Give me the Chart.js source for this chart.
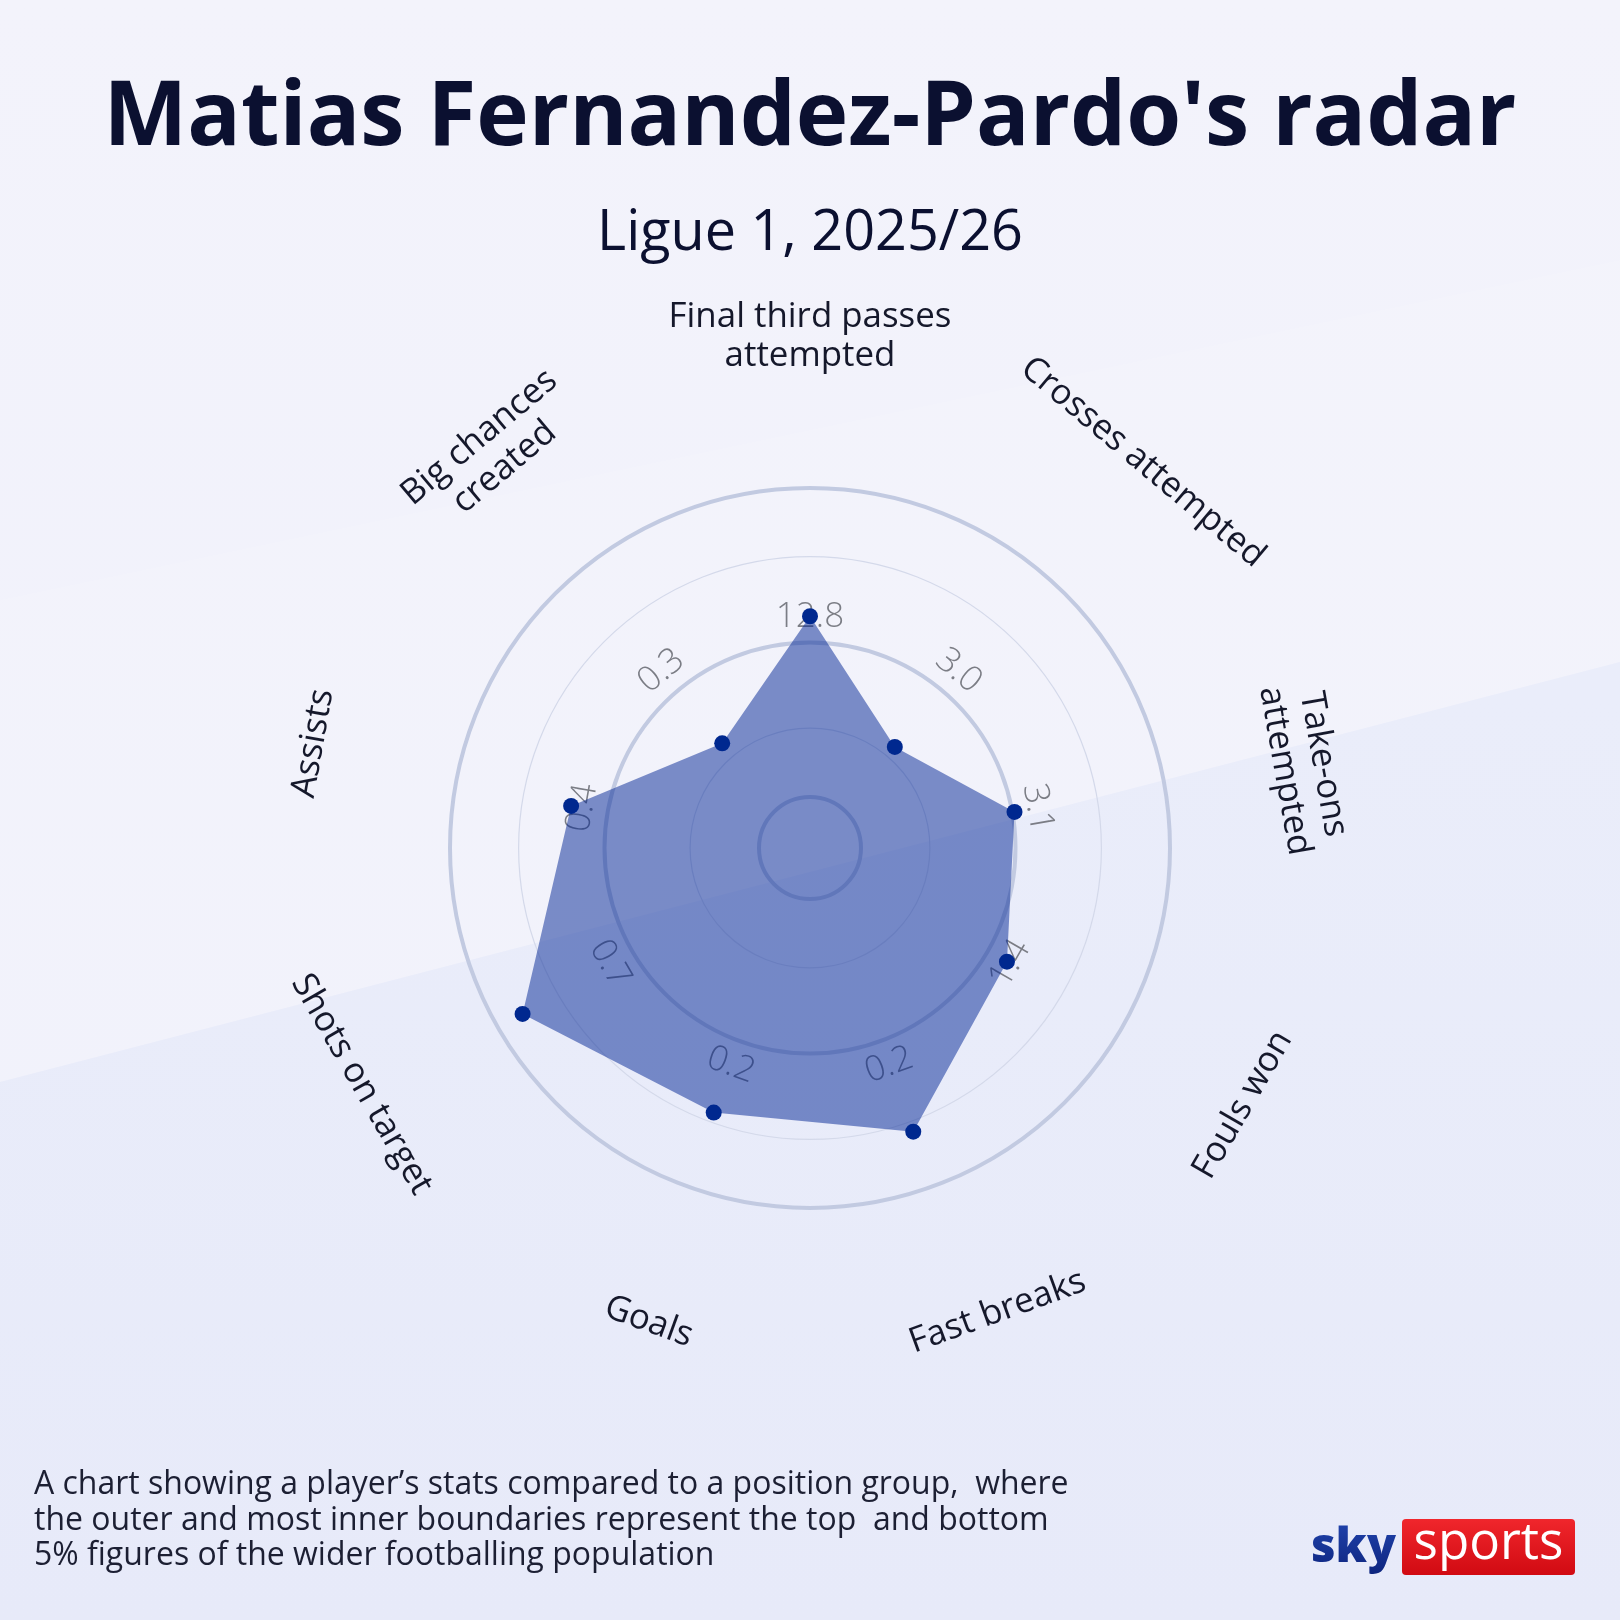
<!DOCTYPE html>
<html>
<head>
<meta charset="utf-8">
<script src="https://cdn.jsdelivr.net/npm/chart.js@4.4.1/dist/chart.umd.min.js"></script>
<style>
  html, body { margin: 0; padding: 0; background: #eef0fa; }
  #radar { display: block; width: 1620px; height: 1620px; }
</style>
</head>
<body>
<canvas id="radar" width="1620" height="1620"></canvas>
<script>
// Data
const categories = [
  ["Final third passes", "attempted"],
  ["Crosses attempted"],
  ["Take-ons", "attempted"],
  ["Fouls won"],
  ["Fast breaks"],
  ["Goals"],
  ["Shots on target"],
  ["Assists"],
  ["Big chances", "created"],
];
// position in the percentile band (0 = bottom 5%, 100 = top 5%)
const percentiles = [58.5, 26.2, 50.7, 57.1, 81.2, 74.6, 90.9, 62.0, 27.7];
// per-90 figures shown on each spoke
const rawValues = ["12.8", "3.0", "3.1", "1.4", "0.2", "0.2", "0.7", "0.4", "0.3"];
// ring values, the inner and outer thick rings are the 5% boundaries
const ringValues = [0, 22.3, 50, 77.8, 100];
const ringIsMajor = [true, false, true, false, true];
const scaleMin = -16.5;

// small nudges for the spoke labels: [extra angle in degrees, distance / drawingArea]
const labelNudge = [
  [0, 1.42], [0.8, 1.415], [0.75, 1.39], [0.7, 1.398], [-2, 1.39],
  [-1.2, 1.39], [2.2, 1.408], [1.9, 1.41], [1.2, 1.41],
];

const titleText = "Matias Fernandez-Pardo's radar";
const subtitleText = "Ligue 1, 2025/26";
const footnoteLines = [
  "A chart showing a player\u2019s stats compared to a position group,  where",
  "the outer and most inner boundaries represent the top  and bottom",
  "5% figures of the wider footballing population",
];

const FONT = "'Open Sans', 'Noto Sans', sans-serif";

// size a font so a string fills a given width
function fitSize(ctx, text, weight, targetW) {
  ctx.font = `${weight} 100px ${FONT}`;
  return (100 * targetW) / ctx.measureText(text).width;
}

function roundRect(ctx, x, y, w, h, r) {
  ctx.beginPath();
  ctx.moveTo(x + r, y);
  ctx.arcTo(x + w, y, x + w, y + h, r);
  ctx.arcTo(x + w, y + h, x, y + h, r);
  ctx.arcTo(x, y + h, x, y, r);
  ctx.arcTo(x, y, x + w, y, r);
  ctx.closePath();
}

// text turned along the ring, flipped on the lower half so it stays readable
function ringRotation(angle) {
  if (angle > Math.PI / 2 + 0.01 && angle < Math.PI * 1.5 - 0.01) return angle - Math.PI;
  return angle;
}

// background with the soft diagonal bands
const backgroundPlugin = {
  id: "background",
  beforeDraw(chart) {
    const c = chart.ctx;
    const W = chart.width, H = chart.height;
    c.save();
    const g = c.createLinearGradient(0, 0, 0, H);
    g.addColorStop(0, "#f3f3fb");
    g.addColorStop(1, "#eff0fb");
    c.fillStyle = g;
    c.fillRect(0, 0, W, H);

    c.fillStyle = "rgba(255,255,255,0.1)";
    c.beginPath();
    c.moveTo(0, 600);
    c.lineTo(W, 260);
    c.lineTo(W, 662);
    c.lineTo(0, 1082);
    c.closePath();
    c.fill();

    const g2 = c.createLinearGradient(0, 700, 0, H);
    g2.addColorStop(0, "#eaedfa");
    g2.addColorStop(1, "#e7eaf9");
    c.fillStyle = g2;
    c.beginPath();
    c.moveTo(0, 1082);
    c.lineTo(W, 662);
    c.lineTo(W, H);
    c.lineTo(0, H);
    c.closePath();
    c.fill();
    c.restore();
  },
};

// value labels on each spoke, drawn under the filled shape
const valueLabelPlugin = {
  id: "valueLabels",
  beforeDatasetsDraw(chart) {
    const scale = chart.scales.r;
    const c = chart.ctx;
    const dist = scale.drawingArea * 0.642;
    c.save();
    c.font = `300 35px ${FONT}`;
    c.fillStyle = "#7b7d85";
    c.textAlign = "center";
    c.textBaseline = "middle";
    rawValues.forEach((txt, i) => {
      const p = scale.getPointPosition(i, dist);
      c.save();
      c.translate(p.x, p.y);
      c.rotate(ringRotation(scale.getIndexAngle(i)));
      c.fillText(txt, 0, 0);
      c.restore();
    });
    c.restore();
  },
};

// category labels, titles, footnote and logo
const textPlugin = {
  id: "texts",
  afterDraw(chart) {
    const scale = chart.scales.r;
    const c = chart.ctx;
    c.save();

    // spoke labels
    const labelSize = fitSize(c, "Final third passes", 400, 283);
    const lineH = labelSize * 1.12;
    c.font = `400 ${labelSize}px ${FONT}`;
    c.fillStyle = "#15182b";
    c.textAlign = "center";
    c.textBaseline = "middle";
    categories.forEach((lines, i) => {
      const angle = scale.getIndexAngle(i) + (labelNudge[i][0] * Math.PI) / 180;
      const dist = scale.drawingArea * labelNudge[i][1];
      const x = scale.xCenter + Math.sin(angle) * dist;
      const y = scale.yCenter - Math.cos(angle) * dist;
      c.save();
      c.translate(x, y);
      c.rotate(ringRotation(scale.getIndexAngle(i)));
      lines.forEach((ln, k) => {
        c.fillText(ln, 0, (k - (lines.length - 1) / 2) * lineH);
      });
      c.restore();
    });

    // title and subtitle
    c.textBaseline = "alphabetic";
    c.fillStyle = "#0b1030";
    const tSize = fitSize(c, titleText, 700, 1413);
    c.font = `700 ${tSize}px ${FONT}`;
    c.fillText(titleText, 810, 145);
    const sSize = fitSize(c, subtitleText, 400, 426);
    c.font = `400 ${sSize}px ${FONT}`;
    c.fillText(subtitleText, 810, 250);

    // footnote
    c.textAlign = "left";
    c.fillStyle = "#1c1f33";
    const fSize = fitSize(c, footnoteLines[0], 400, 1035);
    c.font = `400 ${fSize}px ${FONT}`;
    footnoteLines.forEach((ln, k) => c.fillText(ln, 34, 1494 + k * 35.5));

    // sky sports logo
    const red = c.createLinearGradient(0, 1519, 0, 1575);
    red.addColorStop(0, "#f0262c");
    red.addColorStop(1, "#d10a12");
    c.fillStyle = red;
    roundRect(c, 1402, 1519, 173, 56, 4);
    c.fill();
    c.fillStyle = "#ffffff";
    c.textAlign = "center";
    c.font = `400 ${fitSize(c, "sports", 400, 150)}px ${FONT}`;
    c.fillText("sports", 1488.5, 1559);
    const navy = c.createLinearGradient(0, 1520, 0, 1585);
    navy.addColorStop(0, "#2043ad");
    navy.addColorStop(1, "#0a1f75");
    c.fillStyle = navy;
    c.font = `800 ${fitSize(c, "sky", 800, 85)}px ${FONT}`;
    c.fillText("sky", 1353.5, 1562);

    c.restore();
  },
};

const ctx = document.getElementById("radar").getContext("2d");
const radarChart = new Chart(ctx, {
  type: "radar",
  data: {
    labels: categories,
    datasets: [
      {
        label: "Percentile",
        data: percentiles,
        backgroundColor: "rgba(0, 35, 148, 0.5)",
        borderWidth: 0,
        pointBackgroundColor: "#00288f",
        pointBorderWidth: 0,
        pointRadius: 8,
        fill: "start",
        tension: 0,
      },
    ],
  },
  options: {
    responsive: false,
    animation: false,
    devicePixelRatio: 1,
    layout: {
      padding: { left: 450, right: 450, top: 488, bottom: 412 },
    },
    plugins: {
      legend: { display: false },
      tooltip: { enabled: false },
      title: { display: false },
    },
    scales: {
      r: {
        min: scaleMin,
        max: 100,
        startAngle: 0,
        angleLines: { display: false },
        pointLabels: { display: false },
        ticks: { display: false },
        afterBuildTicks: (scale) => {
          scale.ticks = [scaleMin].concat(ringValues).map((v) => ({ value: v }));
        },
        grid: {
          circular: true,
          color: (c) => {
            if (c.index === 0) return "rgba(0,0,0,0)";
            return ringIsMajor[c.index - 1] ? "#c2cae1" : "#d4d9ea";
          },
          lineWidth: (c) => {
            if (c.index === 0) return 0;
            return ringIsMajor[c.index - 1] ? 4 : 1.2;
          },
        },
      },
    },
  },
  plugins: [backgroundPlugin, valueLabelPlugin, textPlugin],
});
</script>
</body>
</html>
